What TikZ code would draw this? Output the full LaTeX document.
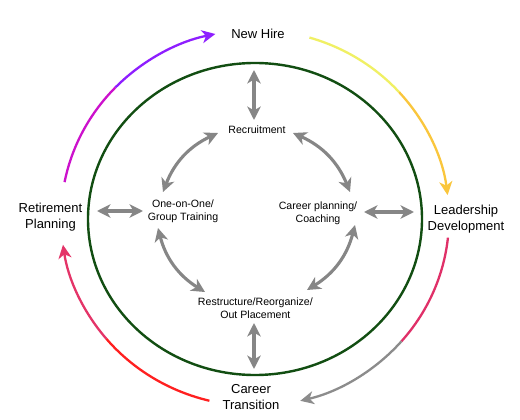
\documentclass[tikz,border=0pt]{standalone}
\usepackage{fontspec}
\setmainfont{Liberation Sans}
\usetikzlibrary{arrows.meta}
\definecolor{ringgreen}{RGB}{18,78,18}
\definecolor{arrowgray}{RGB}{134,134,134}
\definecolor{yelA}{RGB}{240,240,100}
\definecolor{yelB}{RGB}{250,198,60}
\definecolor{pinkA}{RGB}{224,48,104}
\definecolor{grayB}{RGB}{140,140,140}
\definecolor{redA}{RGB}{255,32,32}
\definecolor{crimB}{RGB}{228,52,104}
\definecolor{magA}{RGB}{204,17,204}
\definecolor{purB}{RGB}{142,30,255}
\begin{document}
\begin{tikzpicture}[x=1pt,y=1pt,
  outerlabel/.style={font=\fontsize{13}{15.7}\selectfont, align=center, inner sep=0pt},
  innerlabel/.style={font=\fontsize{10.6}{12.7}\selectfont, align=center, inner sep=0pt},
  garrow/.style={draw=arrowgray, line width=3.1pt,
    {Stealth[length=13.5pt,width=13.5pt,inset=4pt]}-{Stealth[length=13.5pt,width=13.5pt,inset=4pt]}},
  arcline/.style={line width=2.3pt},
  arctip/.style={-{Stealth[length=13.5pt,width=13pt,inset=4pt]}}
]
\fill[white] (0,0) rectangle (520,-420);
\useasboundingbox (0,0) rectangle (520,-420);

% ring
\coordinate (ringc) at (255,-219);
\draw[ringgreen, line width=2.4pt] (ringc) ellipse [x radius=167, y radius=156];

% labels
\node[outerlabel, anchor=base] (newhire) at (258,-38.3) {New Hire};
\node[outerlabel] (lead) at (466,-218.8) {Leadership\\Development};
\node[outerlabel] (career) at (251,-397) {Career\\Transition};
\node[outerlabel] (retire) at (50.5,-217.2) {Retirement\\Planning};

\node[innerlabel, anchor=base] (recruit) at (257,-133.3) {Recruitment};
\node[innerlabel] (train) at (183,-211) {One-on-One/\\Group Training};
\node[innerlabel] (coach) at (318,-213.6) {Career planning/\\Coaching};
\node[innerlabel] (restr) at (255.4,-307.9) {Restructure/Reorganize/\\Out Placement};

% outer cycle arcs
\coordinate (oc) at (255,-218);
\draw[yelA, arcline] (oc) ++(73.7:194 and 188) arc[start angle=73.7, end angle=42, x radius=194, y radius=188];
\draw[yelB, arcline, arctip] (oc) ++(42:194 and 188) arc[start angle=42, end angle=7, x radius=194, y radius=188];

\draw[pinkA, arcline] (oc) ++(-6:194 and 188) arc[start angle=-6, end angle=-41, x radius=194, y radius=188];
\draw[grayB, arcline, arctip] (oc) ++(-41:194 and 188) arc[start angle=-41, end angle=-76.5, x radius=194, y radius=188];

\draw[redA, arcline] (oc) ++(-103.6:194 and 188) arc[start angle=-103.6, end angle=-140, x radius=194, y radius=188];
\draw[crimB, arcline, arctip] (oc) ++(-140:194 and 188) arc[start angle=-140, end angle=-171.8, x radius=194, y radius=188];

\draw[magA, arcline] (oc) ++(169:194 and 188) arc[start angle=169, end angle=136, x radius=194, y radius=188];
\draw[purB, arcline, arctip] (oc) ++(136:194 and 188) arc[start angle=136, end angle=101.8, x radius=194, y radius=188];

% straight double arrows
\coordinate (vta) at (254,-70);
\coordinate (vtb) at (254,-120);
\coordinate (vba) at (254,-323);
\coordinate (vbb) at (254,-369);
\coordinate (hla) at (97,-211);
\coordinate (hlb) at (143,-211);
\coordinate (hra) at (364,-212);
\coordinate (hrb) at (414,-212);
\draw[garrow] (vta) -- (vtb);
\draw[garrow] (vba) -- (vbb);
\draw[garrow] (hla) -- (hlb);
\draw[garrow] (hra) -- (hrb);

% curved double arrows
\coordinate (cAa) at (218,-133);
\coordinate (cAb) at (163,-192);
\coordinate (cBa) at (293,-133);
\coordinate (cBb) at (350,-192);
\coordinate (cCa) at (158,-228);
\coordinate (cCb) at (205,-292);
\coordinate (cDa) at (355,-225);
\coordinate (cDb) at (307,-290);
\draw[garrow] (cAa) to[bend right=22] (cAb);
\draw[garrow] (cBa) to[bend left=22] (cBb);
\draw[garrow] (cCa) to[bend right=22] (cCb);
\draw[garrow] (cDa) to[bend left=22] (cDb);
\end{tikzpicture}
\end{document}
